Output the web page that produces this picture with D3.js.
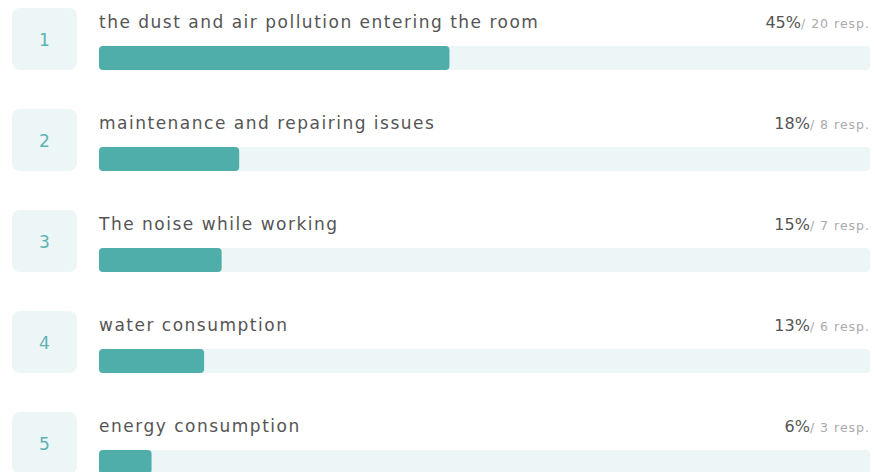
<!DOCTYPE html>
<html>
<head>
<meta charset="utf-8">
<script src="https://cdn.jsdelivr.net/npm/d3@7"></script>
<style>
  body { margin: 0; background: #fff; }
  svg { display: block; font-family: "DejaVu Sans", "Open Sans", sans-serif; }
</style>
</head>
<body>
<svg id="chart" width="875" height="472"></svg>
<script>
const ranks = ["1", "2", "3", "4", "5"];
const labels = [
  "the dust and air pollution entering the room",
  "maintenance and repairing issues",
  "The noise while working",
  "water consumption",
  "energy consumption"
];
const pctLabels = ["45%", "18%", "15%", "13%", "6%"];
const responses = [20, 8, 7, 6, 3];
const totalResp = 44;

const teal = "#50aeaa";
const track = "#ecf6f7";

const svg = d3.select("#chart");

// each row is ~101px tall
const y = d3.scaleBand()
  .domain(ranks)
  .range([8, 513])
  .paddingInner(0);

const x = d3.scaleLinear()
  .domain([0, 1])
  .range([99, 870]);

const rows = svg.selectAll("g.row")
  .data(ranks.map((r, i) => ({rank: r, label: labels[i], pct: pctLabels[i], resp: responses[i]})))
  .enter().append("g")
  .attr("class", "row")
  .attr("transform", d => "translate(0," + y(d.rank) + ")");

// rank box
rows.append("rect")
  .attr("x", 12)
  .attr("y", 0)
  .attr("width", 65)
  .attr("height", 62)
  .attr("rx", 8)
  .attr("fill", track);

rows.append("text")
  .attr("x", 44.5)
  .attr("y", 38)
  .attr("text-anchor", "middle")
  .attr("font-size", 17)
  .attr("fill", "#5eb1b3")
  .text(d => d.rank);

rows.append("text")
  .attr("x", 99)
  .attr("y", 20)
  .attr("font-size", 17)
  .attr("fill", "#555")
  .attr("letter-spacing", 1.5)
  .text(d => d.label);

// percentage + responses, right aligned
const pt = rows.append("text")
  .attr("x", 870)
  .attr("y", 20)
  .attr("text-anchor", "end");
pt.append("tspan")
  .attr("font-size", 16)
  .attr("fill", "#555")
  .text(d => d.pct);
pt.append("tspan")
  .attr("font-size", 12.5)
  .attr("fill", "#aaa")
  .attr("letter-spacing", 1)
  .text(d => "/ " + d.resp + " resp.");

// bar track and fill
rows.append("rect")
  .attr("x", x(0))
  .attr("y", 38)
  .attr("width", x(1) - x(0))
  .attr("height", 24)
  .attr("rx", 4)
  .attr("fill", track);

rows.append("rect")
  .attr("x", x(0))
  .attr("y", 38)
  .attr("width", d => x(d.resp / totalResp) - x(0))
  .attr("height", 24)
  .attr("rx", 4)
  .attr("fill", teal);
</script>
</body>
</html>
